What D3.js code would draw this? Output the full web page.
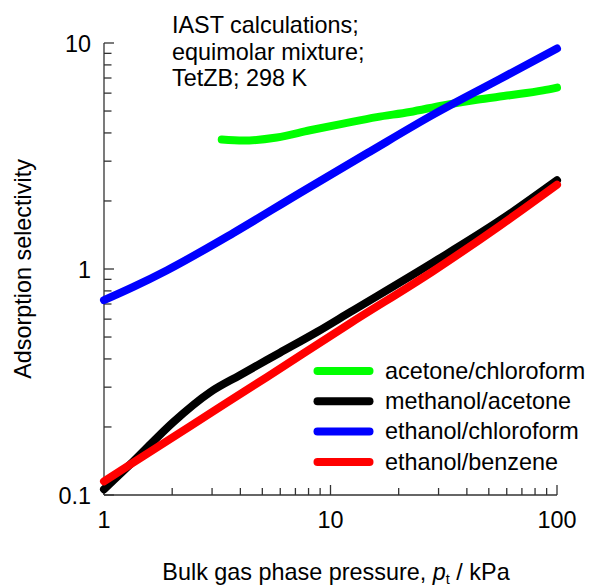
<!DOCTYPE html>
<html>
<head>
<meta charset="utf-8">
<script src="https://cdn.jsdelivr.net/npm/d3@7/dist/d3.min.js"></script>
<style>
  html, body { margin: 0; padding: 0; background: #fff; }
  svg text { font-family: "Liberation Sans", Arial, sans-serif; fill: #000; }
</style>
</head>
<body>
<svg id="chart" width="593" height="586"></svg>
<script>
// IAST selectivities for equimolar binary mixtures in TetZB at 298 K
const seriesNames = ["acetone/chloroform", "methanol/acetone", "ethanol/chloroform", "ethanol/benzene"];
const seriesColors = ["#00ff00", "#000000", "#0000ff", "#ff0000"];

// pressure (kPa) / selectivity pairs
const acetoneChloroformP = [3.31, 4.12, 5.79, 8.12, 11.39, 16.0, 22.4, 31.4, 44.2, 61.9, 86.8, 100];
const acetoneChloroformS = [3.74, 3.70, 3.82, 4.11, 4.40, 4.70, 4.95, 5.30, 5.61, 5.87, 6.17, 6.35];

const methanolAcetoneP = [1.0, 1.34, 2.02, 2.94, 3.98, 5.98, 8.71, 12.2, 28.4, 56, 100];
const methanolAcetoneS = [0.106, 0.140, 0.210, 0.285, 0.339, 0.426, 0.526, 0.644, 1.07, 1.64, 2.47];

const ethanolChloroformP = [1.0, 1.34, 1.90, 3.71, 7.33, 14.5, 28.4, 56, 100];
const ethanolChloroformS = [0.728, 0.831, 0.988, 1.44, 2.17, 3.25, 4.82, 6.93, 9.45];

const ethanolBenzeneP = [1.0, 1.34, 2.94, 5.24, 12.2, 28.4, 56, 100];
const ethanolBenzeneS = [0.115, 0.1387, 0.2296, 0.3327, 0.575, 0.979, 1.555, 2.36];

const xTickLabels = ["1", "10", "100"];
const yTickLabels = ["0.1", "1", "10"];

const annotationLines = ["IAST calculations;", "equimolar mixture;", "TetZB; 298 K"];

const seriesP = [acetoneChloroformP, methanolAcetoneP, ethanolChloroformP, ethanolBenzeneP];
const seriesS = [acetoneChloroformS, methanolAcetoneS, ethanolChloroformS, ethanolBenzeneS];

const svg = d3.select("#chart");
const plotLeft = 104, plotRight = 557, plotTop = 43, plotBottom = 495;
const fontSize = 23.4;

const x = d3.scaleLog().domain([1, 100]).range([plotLeft, plotRight]);
const y = d3.scaleLog().domain([0.1, 10]).range([plotBottom, plotTop]);

const axisColor = "#333";

// minor and major tick values for both log axes
function logTicks(lo, hi) {
  const out = [];
  for (let d = lo; d < hi * 0.999; d *= 10) {
    for (let k = 1; k < 10; k++) out.push({ v: d * k, major: k === 1 });
  }
  out.push({ v: hi, major: true });
  return out;
}

// axes: ticks point into the plot
const gAxes = svg.append("g");
gAxes.append("line").attr("x1", plotLeft).attr("x2", plotLeft).attr("y1", plotTop).attr("y2", plotBottom)
  .attr("stroke", axisColor).attr("stroke-width", 1.3);
gAxes.append("line").attr("x1", plotLeft).attr("x2", plotRight).attr("y1", plotBottom).attr("y2", plotBottom)
  .attr("stroke", axisColor).attr("stroke-width", 1.3);

logTicks(0.1, 10).forEach(t => {
  const py = y(t.v);
  gAxes.append("line").attr("x1", plotLeft).attr("x2", plotLeft + (t.major ? 10 : 7.5))
    .attr("y1", py).attr("y2", py).attr("stroke", axisColor).attr("stroke-width", 1.3);
});
logTicks(1, 100).forEach(t => {
  const px = x(t.v);
  gAxes.append("line").attr("x1", px).attr("x2", px)
    .attr("y1", plotBottom).attr("y2", plotBottom - (t.major ? 10 : 7))
    .attr("stroke", axisColor).attr("stroke-width", 1.3);
});

// tick labels
yTickLabels.forEach(lbl => {
  svg.append("text").attr("x", 91).attr("y", y(+lbl) + 8.5)
    .attr("text-anchor", "end").attr("font-size", fontSize).text(lbl);
});
xTickLabels.forEach(lbl => {
  svg.append("text").attr("x", x(+lbl)).attr("y", 528)
    .attr("text-anchor", "middle").attr("font-size", fontSize).text(lbl);
});

// axis titles
svg.append("text")
  .attr("transform", `translate(31,${(plotTop + plotBottom) / 2}) rotate(-90)`)
  .attr("text-anchor", "middle").attr("font-size", fontSize)
  .text("Adsorption selectivity");

const xt = svg.append("text").attr("x", 336).attr("y", 580)
  .attr("text-anchor", "middle").attr("font-size", fontSize);
xt.append("tspan").text("Bulk gas phase pressure, ");
xt.append("tspan").attr("font-style", "italic").text("p");
xt.append("tspan").attr("font-size", fontSize * 0.62).attr("dy", 4).text("t");
xt.append("tspan").attr("dy", -4).text(" / kPa");

// curves
const line = d3.line()
  .x(d => x(d[0])).y(d => y(d[1]))
  .curve(d3.curveMonotoneX);

seriesP.forEach((ps, i) => {
  const pts = ps.map((p, j) => [p, seriesS[i][j]]);
  svg.append("path").datum(pts)
    .attr("d", line)
    .attr("fill", "none")
    .attr("stroke", seriesColors[i])
    .attr("stroke-width", 8)
    .attr("stroke-linecap", "round")
    .attr("stroke-linejoin", "round");
});

// annotation
annotationLines.forEach((t, i) => {
  svg.append("text").attr("x", 172).attr("y", 33 + i * 26.5)
    .attr("font-size", fontSize).text(t);
});

// legend
seriesNames.forEach((name, i) => {
  const ly = 371 + i * 30.3;
  svg.append("line").attr("x1", 317.5).attr("x2", 369.5).attr("y1", ly).attr("y2", ly)
    .attr("stroke", seriesColors[i]).attr("stroke-width", 8).attr("stroke-linecap", "round");
  svg.append("text").attr("x", 385).attr("y", ly + 7.8)
    .attr("font-size", fontSize).text(name);
});
</script>
</body>
</html>
